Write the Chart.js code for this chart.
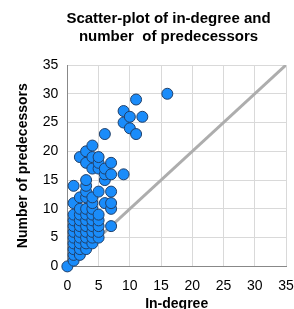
<!DOCTYPE html>
<html>
<head>
    <title>Scatter-plot of in-degree and number of predecessors</title>
    <script src="https://cdn.jsdelivr.net/npm/chart.js"></script>
    <style>
        body { margin: 0; background: #fff; }
        #wrap { width: 294px; height: 309px; }
    </style>
</head>
<body>
    <div id="wrap"><canvas id="scatterChart"></canvas></div>
    <script>
        // in-degree per node, and the predecessor counts seen at that in-degree
        const inDegrees = [0, 1, 2, 3, 4, 5, 6, 7, 9, 10, 11, 12, 16];
        const predecessorsByDegree = [
            [0],
            [1, 2, 3, 4, 5, 6, 7, 8, 9, 11, 14],
            [2, 3, 4, 5, 6, 7, 8, 9, 10, 12, 19],
            [3, 4, 5, 6, 7, 8, 9, 10, 12, 13, 14, 15, 18, 20],
            [4, 5, 6, 7, 8, 9, 10, 11, 12, 17, 19, 21],
            [5, 6, 7, 8, 9, 13, 17, 18, 19],
            [11, 15, 16, 17, 23],
            [7, 10, 11, 13, 16, 18],
            [16, 25, 27],
            [24, 26],
            [23, 29],
            [26],
            [30]
        ];
        const diagonalEnds = [0, 35];
        const axisTicks = [0, 5, 10, 15, 20, 25, 30, 35];

        const points = [];
        inDegrees.forEach((d, i) => {
            predecessorsByDegree[i].forEach(p => points.push({ x: d, y: p }));
        });

        const font = 'Liberation Sans, Arial, sans-serif';
        const ctx = document.getElementById('scatterChart').getContext('2d');
        new Chart(ctx, {
            type: 'scatter',
            data: {
                datasets: [{
                    label: 'Nodes',
                    data: points,
                    backgroundColor: '#1a8cfa',
                    borderColor: '#20406a',
                    borderWidth: 1,
                    pointRadius: 5.5,
                    clip: false,
                    order: 1
                }, {
                    type: 'line',
                    label: 'y = x',
                    data: diagonalEnds.map(v => ({ x: v, y: v })),
                    borderColor: '#adadad',
                    borderWidth: 3,
                    pointRadius: 0,
                    fill: false,
                    order: 2
                }]
            },
            options: {
                responsive: true,
                maintainAspectRatio: false,
                animation: false,
                layout: { padding: { left: 36, right: -7, top: 0, bottom: -4 } },
                plugins: {
                    legend: { display: false },
                    tooltip: { enabled: false },
                    title: {
                        display: true,
                        text: ['Scatter-plot of in-degree and', 'number  of predecessors'],
                        color: '#000',
                        font: { family: font, size: 15, weight: 'bold' },
                        lineHeight: 1.15,
                        padding: { top: 10, bottom: 19 }
                    }
                },
                scales: {
                    x: {
                        type: 'linear',
                        min: 0,
                        max: 35,
                        afterBuildTicks: axis => { axis.ticks = axisTicks.map(v => ({ value: v })); },
                        // keep a fixed gap on the right instead of the label overflow
                        afterFit: axis => { axis.paddingRight = 8; },
                        ticks: { color: '#000', font: { family: font, size: 14 }, padding: 11, maxRotation: 0 },
                        grid: { color: '#d9d9d9', drawTicks: false },
                        border: { color: '#888', width: 1 },
                        title: { display: true, text: 'In-degree', color: '#000', font: { family: font, size: 14, weight: 'bold' }, padding: { top: -9, bottom: 0 } }
                    },
                    y: {
                        type: 'linear',
                        min: 0,
                        max: 35,
                        afterBuildTicks: axis => { axis.ticks = axisTicks.map(v => ({ value: v })); },
                        ticks: { color: '#000', font: { family: font, size: 14 }, padding: 9 },
                        grid: { color: '#d9d9d9', drawTicks: false },
                        border: { color: '#888', width: 1 },
                        title: { display: true, text: 'Number of predecessors', color: '#000', font: { family: font, size: 14, weight: 'bold' }, padding: { top: -21, bottom: 2 } }
                    }
                }
            }
        });
    </script>
</body>
</html>
